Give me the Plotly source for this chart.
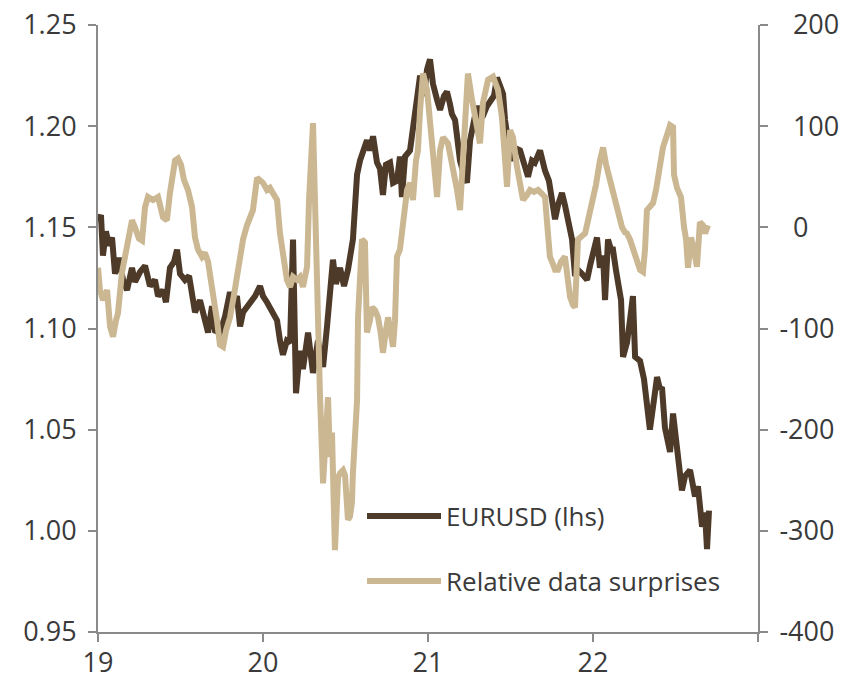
import plotly.graph_objects as go

# EURUSD (lhs) – decimal-year x (19 = 2019)
eur_x = [19.000, 19.018, 19.030, 19.048, 19.067, 19.085, 19.103, 19.127, 19.152, 19.176,
         19.206, 19.224, 19.255, 19.285, 19.315, 19.345, 19.364, 19.394, 19.412, 19.436,
         19.461, 19.479, 19.497, 19.527, 19.552, 19.570, 19.588, 19.618, 19.636, 19.667,
         19.691, 19.709, 19.739, 19.770, 19.800, 19.818, 19.842, 19.861, 19.879, 19.921,
         19.952, 19.982, 20.000, 20.024, 20.055, 20.085, 20.103, 20.121, 20.145, 20.164,
         20.182, 20.200, 20.224, 20.242, 20.273, 20.303, 20.333, 20.364, 20.388, 20.424,
         20.442, 20.467, 20.491, 20.515, 20.545, 20.570, 20.588, 20.612, 20.630, 20.648,
         20.667, 20.691, 20.709, 20.727, 20.745, 20.770, 20.788, 20.812, 20.830, 20.842,
         20.861, 20.891, 20.909, 20.927, 20.952, 20.976, 20.994, 21.012, 21.030, 21.055,
         21.073, 21.097, 21.115, 21.133, 21.145, 21.164, 21.176, 21.194, 21.218, 21.236,
         21.255, 21.279, 21.297, 21.315, 21.333, 21.358, 21.376, 21.400, 21.418, 21.436,
         21.455, 21.467, 21.479, 21.497, 21.509, 21.533, 21.558, 21.582, 21.606, 21.630,
         21.648, 21.679, 21.697, 21.709, 21.733, 21.752, 21.770, 21.788, 21.812, 21.830,
         21.842, 21.861, 21.873, 21.891, 21.909, 21.933, 21.964, 21.982, 21.994, 22.012,
         22.024, 22.042, 22.061, 22.073, 22.091, 22.109, 22.121, 22.139, 22.152, 22.170,
         22.182, 22.206, 22.224, 22.242, 22.255, 22.285, 22.309, 22.327, 22.345, 22.370,
         22.388, 22.406, 22.418, 22.436, 22.467, 22.485, 22.515, 22.539, 22.558, 22.588,
         22.600, 22.618, 22.636, 22.661, 22.679, 22.691, 22.703]
eur_y = [1.153, 1.156, 1.136, 1.148, 1.141, 1.145, 1.127, 1.135, 1.124, 1.119,
         1.130, 1.123, 1.128, 1.131, 1.121, 1.124, 1.116, 1.119, 1.113, 1.130,
         1.133, 1.139, 1.127, 1.124, 1.126, 1.116, 1.108, 1.114, 1.107, 1.098,
         1.111, 1.099, 1.098, 1.106, 1.118, 1.111, 1.116, 1.101, 1.108, 1.112,
         1.116, 1.121, 1.116, 1.113, 1.108, 1.104, 1.094, 1.087, 1.094, 1.093,
         1.144, 1.068, 1.089, 1.080, 1.098, 1.078, 1.094, 1.081, 1.101, 1.134,
         1.122, 1.130, 1.121, 1.129, 1.144, 1.176, 1.183, 1.188, 1.193, 1.188,
         1.195, 1.182, 1.179, 1.166, 1.181, 1.182, 1.172, 1.173, 1.185, 1.165,
         1.185, 1.188, 1.200, 1.213, 1.225, 1.215, 1.228, 1.233, 1.221, 1.213,
         1.208, 1.215, 1.217, 1.211, 1.206, 1.203, 1.193, 1.183, 1.176, 1.172,
         1.193, 1.201, 1.210, 1.203, 1.205, 1.210, 1.212, 1.215, 1.224, 1.220,
         1.216, 1.203, 1.195, 1.186, 1.183, 1.189, 1.188, 1.181, 1.175, 1.183,
         1.182, 1.188, 1.181, 1.178, 1.173, 1.165, 1.154, 1.161, 1.167, 1.161,
         1.157, 1.151, 1.144, 1.126, 1.129, 1.127, 1.124, 1.131, 1.135, 1.139,
         1.145, 1.130, 1.136, 1.114, 1.144, 1.139, 1.139, 1.129, 1.123, 1.114,
         1.086, 1.093, 1.104, 1.116, 1.086, 1.084, 1.075, 1.060, 1.050, 1.065,
         1.076, 1.070, 1.071, 1.051, 1.039, 1.058, 1.039, 1.020, 1.027, 1.030,
         1.025, 1.017, 1.022, 1.002, 1.009, 0.991, 1.010]

# Relative data surprises (rhs)
sur_x = [19.000, 19.012, 19.030, 19.055, 19.073, 19.091, 19.109, 19.121, 19.145, 19.176,
         19.206, 19.224, 19.248, 19.267, 19.285, 19.303, 19.333, 19.364, 19.394, 19.418,
         19.436, 19.467, 19.485, 19.503, 19.521, 19.545, 19.570, 19.588, 19.606, 19.630,
         19.648, 19.667, 19.685, 19.703, 19.721, 19.739, 19.758, 19.776, 19.800, 19.824,
         19.842, 19.861, 19.879, 19.903, 19.921, 19.939, 19.964, 19.982, 20.000, 20.024,
         20.042, 20.067, 20.085, 20.103, 20.127, 20.145, 20.164, 20.182, 20.206, 20.224,
         20.242, 20.267, 20.279, 20.291, 20.303, 20.315, 20.327, 20.345, 20.364, 20.376,
         20.394, 20.406, 20.418, 20.436, 20.455, 20.467, 20.485, 20.497, 20.515, 20.527,
         20.539, 20.545, 20.558, 20.570, 20.576, 20.588, 20.600, 20.618, 20.630, 20.648,
         20.661, 20.679, 20.697, 20.715, 20.727, 20.745, 20.758, 20.776, 20.788, 20.800,
         20.812, 20.830, 20.855, 20.873, 20.891, 20.909, 20.927, 20.939, 20.952, 20.970,
         20.994, 21.012, 21.030, 21.055, 21.073, 21.091, 21.121, 21.152, 21.176, 21.194,
         21.212, 21.230, 21.242, 21.267, 21.297, 21.315, 21.333, 21.364, 21.394, 21.424,
         21.448, 21.467, 21.479, 21.497, 21.515, 21.539, 21.558, 21.576, 21.600, 21.618,
         21.642, 21.667, 21.685, 21.709, 21.727, 21.739, 21.752, 21.770, 21.788, 21.806,
         21.830, 21.848, 21.861, 21.879, 21.891, 21.909, 21.927, 21.952, 21.970, 21.994,
         22.018, 22.042, 22.061, 22.079, 22.091, 22.109, 22.133, 22.152, 22.176, 22.194,
         22.206, 22.224, 22.242, 22.267, 22.285, 22.303, 22.315, 22.327, 22.345, 22.364,
         22.382, 22.394, 22.412, 22.424, 22.448, 22.467, 22.485, 22.491, 22.509, 22.533,
         22.552, 22.564, 22.576, 22.594, 22.606, 22.630, 22.648, 22.667, 22.679, 22.697]
sur_y = [-40, -62, -72, -62, -98, -108, -92, -85, -45, -20,
         7, 0, -11, -13, 20, 30, 27, 30, 10, 7,
         34, 66, 68, 62, 47, 37, 20, -10, -22, -29,
         -25, -34, -52, -72, -92, -116, -118, -102, -89, -67,
         -49, -32, -12, 2, 12, 17, 49, 47, 44, 37,
         39, 32, 27, -6, -34, -52, -59, -49, -52, -49,
         -59, -39, 27, 66, 103, 27, -72, -164, -253, -210,
         -168, -227, -203, -319, -247, -243, -240, -245, -289, -286,
         -272, -243, -200, -171, -89, -32, -12, -15, -104, -92,
         -79, -82, -89, -106, -124, -102, -89, -106, -118, -92,
         -29, -22, 7, 37, 44, 27, 66, 76, 116, 152,
         136, 101, 76, 30, 76, 89, 83, 60, 37, 17,
         66, 116, 152, 126, 96, 83, 123, 146, 149, 136,
         109, 54, 40, 96, 89, 60, 42, 27, 32, 37,
         35, 37, 34, 30, -6, -29, -34, -42, -42, -34,
         -29, -57, -69, -77, -79, -12, -10, -6, 7, 24,
         42, 66, 79, 62, 54, 47, 30, 17, 0, -5,
         -6, -12, -22, -34, -42, -44, -22, 17, 20, 24,
         37, 50, 66, 79, 91, 101, 99, 52, 39, 30,
         0, -12, -40, -10, -18, -39, 5, 2, -6, 2]

x_tickvals = [19, 20, 21, 22, 23]
x_ticktext = ["19", "20", "21", "22", ""]
left_tickvals = [0.95, 1.00, 1.05, 1.10, 1.15, 1.20, 1.25]
left_ticktext = ["0.95", "1.00", "1.05", "1.10", "1.15", "1.20", "1.25"]
right_tickvals = [-400, -300, -200, -100, 0, 100, 200]
# positive labels carry a leading en space so their digits line up with the negatives'
right_ticktext = ["-400", "-300", "-200", "-100", "\u20020", "\u2002100", "\u2002200"]

DARK = "#4E3A28"
TAN = "#CBB893"
AXIS = "#8A8A8A"
TXT = "#3A3A3A"
FONT = "Open Sans"
TICK_SIZE = 27
LEG_SIZE = 26

fig = go.Figure()
fig.add_trace(go.Scatter(x=eur_x, y=eur_y, mode="lines", name="EURUSD (lhs)",
                         line=dict(color=DARK, width=6), yaxis="y"))
fig.add_trace(go.Scatter(x=sur_x, y=sur_y, mode="lines", name="Relative data surprises",
                         line=dict(color=TAN, width=6), yaxis="y2"))

# manual legend
fig.add_shape(type="line", xref="paper", yref="paper", x0=0.4076, x1=0.5197,
              y0=0.191, y1=0.191, line=dict(color=DARK, width=6))
fig.add_shape(type="line", xref="paper", yref="paper", x0=0.4076, x1=0.5197,
              y0=0.084, y1=0.084, line=dict(color=TAN, width=6))
fig.add_annotation(xref="paper", yref="paper", x=0.524, y=0.191, xanchor="left",
                   yanchor="middle", text="EURUSD (lhs)", showarrow=False,
                   font=dict(family=FONT, size=LEG_SIZE, color=TXT))
fig.add_annotation(xref="paper", yref="paper", x=0.524, y=0.084, xanchor="left",
                   yanchor="middle", text="Relative data surprises", showarrow=False,
                   font=dict(family=FONT, size=LEG_SIZE, color=TXT))

axis_common = dict(showgrid=False, zeroline=False, showline=True, linecolor=AXIS,
                   linewidth=2, ticks="outside", ticklen=8, tickwidth=2, tickcolor=AXIS,
                   automargin=False, ticklabeloverflow="allow",
                   tickfont=dict(family=FONT, size=TICK_SIZE, color=TXT))

fig.update_layout(
    width=846, height=680,
    margin=dict(l=98, r=88, t=25, b=48, autoexpand=False),
    paper_bgcolor="white", plot_bgcolor="white",
    showlegend=False,
    font=dict(family=FONT, size=TICK_SIZE, color=TXT),
    xaxis=dict(range=[19, 23], tickvals=x_tickvals, ticktext=x_ticktext,
               ticklabelstandoff=-2, **axis_common),
    yaxis=dict(range=[0.95, 1.25], tickvals=left_tickvals, ticktext=left_ticktext,
               ticklabelstandoff=6, **axis_common),
    yaxis2=dict(range=[-400, 200], tickvals=right_tickvals, ticktext=right_ticktext,
                overlaying="y", side="right", ticklabelstandoff=6, **axis_common),
)

# remove the default page margin so the figure fills the window exactly
fig.write_html("out.html", config={"displayModeBar": False},
               post_script="document.body.style.margin='0px';")
